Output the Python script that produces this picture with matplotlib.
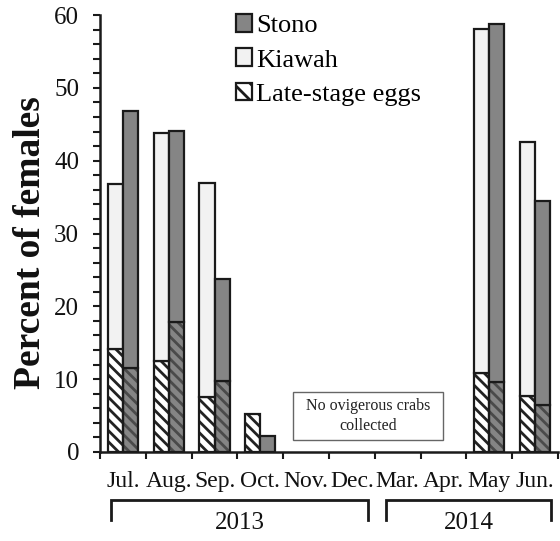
import matplotlib
matplotlib.use("Agg")
import matplotlib.pyplot as plt
from matplotlib.patches import Patch, Rectangle
from matplotlib.lines import Line2D
import matplotlib.transforms as mtransforms
import numpy as np

plt.rcParams['font.family'] = ['Liberation Serif', 'DejaVu Serif']
plt.rcParams['hatch.linewidth'] = 2.0

months = ["Jul.", "Aug.", "Sep.", "Oct.", "Nov.", "Dec.", "Mar.", "Apr.", "May", "Jun."]
kiawah_total = [36.8, 43.8, 37.0, 5.2, 0, 0, 0, 0, 58.1, 42.5]
kiawah_late = [14.2, 12.5, 7.5, 5.2, 0, 0, 0, 0, 10.9, 7.7]
stono_total = [46.8, 44.1, 23.8, 2.2, 0, 0, 0, 0, 58.8, 34.5]
stono_late = [11.6, 17.9, 9.7, 0.0, 0, 0, 0, 0, 9.6, 6.5]
years = ["2013", "2014"]
year_spans = [(0, 6), (6, 10)]
note_text = "No ovigerous crabs\ncollected"
yticks = [0, 10, 20, 30, 40, 50, 60]

W, H = 560, 541
fig = plt.figure(figsize=(W / 100, H / 100), dpi=100)
ax = fig.add_axes([100 / W, 1 - 452 / H, 458 / W, 437 / H])

x = np.arange(len(months)) + 0.5
bw = 0.33
edge = "#1a1a1a"
kia_col = "#f2f2f2"
sto_col = "#858585"

kt = np.array(kiawah_total, dtype=float)
kl = np.array(kiawah_late, dtype=float)
st = np.array(stono_total, dtype=float)
sl = np.array(stono_late, dtype=float)
xk = x - bw / 2
xs = x + bw / 2


def draw_series(xpos, total, late, base_col, top_col, hatch_col):
    m = late > 0
    ax.bar(xpos[m], late[m], bw, color=base_col, edgecolor="none", zorder=2)
    ax.bar(xpos[m], late[m], bw, color="none", edgecolor=hatch_col, hatch="\\\\\\",
           linewidth=0, zorder=3)
    ax.bar(xpos[m], late[m], bw, fill=False, edgecolor=edge, linewidth=1.6, zorder=4)
    top = total - late
    mt = top > 0
    ax.bar(xpos[mt], top[mt], bw, bottom=late[mt], color=top_col,
           edgecolor=edge, linewidth=1.6, zorder=4)


draw_series(xk, kt, kl, "white", kia_col, "#222222")
draw_series(xs, st, sl, sto_col, sto_col, "#4a4a4a")

ax.set_xlim(0, len(months))
ax.set_ylim(0, 60)
for s in ["top", "right"]:
    ax.spines[s].set_visible(False)
for s in ["left", "bottom"]:
    ax.spines[s].set_linewidth(1.8)
    ax.spines[s].set_color(edge)

ax.set_yticks(yticks)
ax.set_yticks(np.arange(0, 61, 2), minor=True)
ax.tick_params(axis="y", which="both", direction="out", length=5, width=1.5, colors=edge,
               labelsize=18, pad=10)
ax.set_xticks(np.arange(0, len(months) + 1))
ax.set_xticks(x, minor=True)
ax.set_xticklabels([""] * (len(months) + 1))
ax.set_xticklabels(months, minor=True)
ax.tick_params(axis="x", which="major", direction="out", length=5, width=1.5, colors=edge)
ax.tick_params(axis="x", which="minor", length=0, labelsize=17, pad=14)
for t in ax.get_yticklabels() + ax.get_xticklabels(minor=True):
    t.set_color("#111111")

ax.set_ylabel("Percent of females", fontsize=27, fontweight="bold", color="#111111")
ax.yaxis.set_label_coords(-0.114, 0.48)

# note box
ax.add_patch(Rectangle((4.21, 1.65), 3.28, 6.6, fill=False, edgecolor="#666666", linewidth=1.0, zorder=5))
ax.text(4.21 + 3.28 / 2, 1.65 + 3.3, note_text, ha="center", va="center", fontsize=11.5,
        color="#222222", linespacing=1.3, zorder=6)

# legend
handles = [Patch(facecolor=sto_col, edgecolor=edge, linewidth=1.6, label="Stono"),
           Patch(facecolor=kia_col, edgecolor=edge, linewidth=1.6, label="Kiawah"),
           Patch(facecolor="white", edgecolor=edge, linewidth=1.6, hatch="\\\\", label="Late-stage eggs")]
fig.legend(handles=handles, loc="upper left", bbox_to_anchor=(231 / W, 1 - 9 / H),
           frameon=False, prop={"family": "Liberation Serif", "size": 19},
           handlelength=0.6, handleheight=0.65,
           handletextpad=0.15, labelspacing=0.42, borderpad=0.2, borderaxespad=0)

# year brackets
tr = mtransforms.blended_transform_factory(ax.transData, fig.transFigure)
y_h = 1 - 500 / H
y_e = 1 - 520 / H
for (a, b), lab in zip(year_spans, years):
    x0 = a + 0.25
    x1 = b - 0.15
    fig.add_artist(Line2D([x0, x0, x1, x1], [y_e, y_h, y_h, y_e], transform=tr,
                          color=edge, linewidth=2.0, solid_joinstyle="miter"))
    fig.text((x0 + x1) / 2, 1 - 523 / H, lab, transform=tr, ha="center", va="center",
             fontsize=18, color="#111111")

fig.savefig("out.png", dpi=100)
